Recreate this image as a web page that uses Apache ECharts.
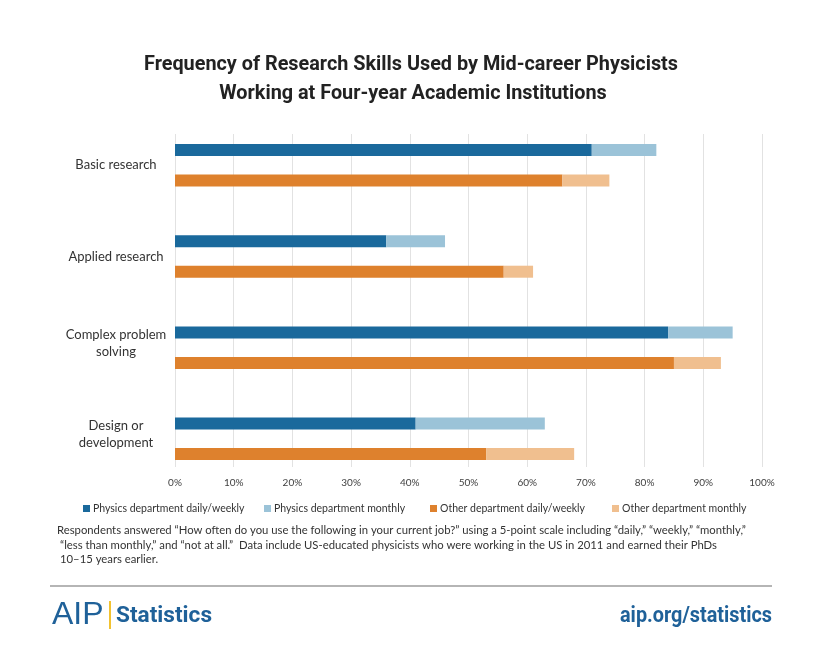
<!DOCTYPE html>
<html>
<head>
<meta charset="utf-8">
<script src="https://cdn.jsdelivr.net/npm/echarts@6/dist/echarts.min.js"></script>
<style>
html,body{margin:0;padding:0;background:#fff;}
#chart{width:820px;height:666px;}
</style>
</head>
<body>
<div id="chart"></div>
<script>
var categories = ['Basic research', 'Applied research', 'Complex problem\nsolving', 'Design or\ndevelopment'];
var physicsDailyWeekly = [71, 36, 84, 41];
var physicsMonthly = [11, 10, 11, 22];
var otherDailyWeekly = [66, 56, 85, 53];
var otherMonthly = [8, 5, 8, 15];
var seriesNames = ['Physics department daily/weekly', 'Physics department monthly', 'Other department daily/weekly', 'Other department monthly'];
var tickValues = [0, 10, 20, 30, 40, 50, 60, 70, 80, 90, 100];
var titleLines = ['Frequency of Research Skills Used by Mid-career Physicists', 'Working at Four-year Academic Institutions'];
var noteLines = [
  'Respondents answered \u201cHow often do you use the following in your current job?\u201d using a 5-point scale including \u201cdaily,\u201d \u201cweekly,\u201d \u201cmonthly,\u201d',
  '\u201cless than monthly,\u201d and \u201cnot at all.\u201d  Data include US-educated physicists who were working in the US in 2011 and earned their PhDs',
  '10\u201315 years earlier.'
];

var colors = ['#1a699c', '#9bc3d8', '#de812d', '#f0bf8f'];
var labelFont = 'Lato, "Open Sans", sans-serif';
var titleFont = 'bold 21px Roboto, "Liberation Sans", sans-serif';
var footFont = 'bold 22px Roboto, "Liberation Sans", sans-serif';
var noteFont = '11.3px ' + labelFont;

var measureCtx = document.createElement('canvas').getContext('2d');
function textWidth(text, font) { measureCtx.font = font; return measureCtx.measureText(text).width; }
var titleScale = 534 / textWidth(titleLines[0], titleFont);
var statScale = 96 / textWidth('Statistics', footFont);
var urlScale = 152 / textWidth('aip.org/statistics', footFont);

var chart = echarts.init(document.getElementById('chart'), null, {renderer: 'canvas'});

function bar(name, data, stack, color) {
  return {
    name: name, type: 'bar', stack: stack, data: data,
    barWidth: 12, barGap: '154%',
    xAxisIndex: 0, yAxisIndex: 0,
    itemStyle: {color: color},
    emphasis: {disabled: true}
  };
}

function legendAt(left, idx) {
  return {
    left: left, top: 503, padding: 0,
    itemWidth: 7, itemHeight: 7, itemGap: 5,
    icon: 'rect', selectedMode: false,
    data: [seriesNames[idx]],
    textStyle: {fontFamily: labelFont, fontSize: 10.5, color: '#333', padding: [0, 0, 0, -2]}
  };
}

function categoryLabel(v) {
  var lines = v.split('\n').map(function (l) { return '{a|' + l + '}'; });
  if (lines.length > 1) { lines.push('{s| }'); }
  return lines.join('\n');
}

var option = {
  animation: false,
  backgroundColor: '#fff',
  legend: [legendAt(83, 0), legendAt(264, 1), legendAt(430, 2), legendAt(612, 3)],
  grid: [
    {left: 175, right: 58, top: 119.7, bottom: 181.6},
    {left: 175, right: 58, top: 134, bottom: 199}
  ],
  xAxis: [
    {type: 'value', gridIndex: 0, min: 0, max: 100, interval: 10, show: false},
    {type: 'value', gridIndex: 1, min: 0, max: 100, interval: 10,
     axisLine: {show: false}, axisTick: {show: false},
     splitLine: {show: true, lineStyle: {color: '#e2e2e2', width: 1}},
     axisLabel: {margin: 11, fontFamily: labelFont, fontSize: 10, color: '#404040',
       formatter: function (v) { return tickValues.indexOf(v) >= 0 ? v + '%' : ''; }}}
  ],
  yAxis: [
    {type: 'category', gridIndex: 0, data: categories, inverse: true,
     axisLine: {show: false}, axisTick: {show: false},
     axisLabel: {margin: 59, align: 'center', formatter: categoryLabel,
       rich: {
         a: {fontFamily: labelFont, fontSize: 13, lineHeight: 17, color: '#333', align: 'center'},
         s: {fontSize: 1, lineHeight: 9}
       }}},
    {type: 'category', gridIndex: 1, data: categories, show: false}
  ],
  series: [
    bar(seriesNames[0], physicsDailyWeekly, 'physics', colors[0]),
    bar(seriesNames[1], physicsMonthly, 'physics', colors[1]),
    bar(seriesNames[2], otherDailyWeekly, 'other', colors[2]),
    bar(seriesNames[3], otherMonthly, 'other', colors[3])
  ],
  graphic: [
    {type: 'text', x: 411, y: 65, scaleX: titleScale,
     style: {text: titleLines[0], font: titleFont, fill: '#222', align: 'center', verticalAlign: 'middle'}},
    {type: 'text', x: 413, y: 93.5, scaleX: titleScale,
     style: {text: titleLines[1], font: titleFont, fill: '#222', align: 'center', verticalAlign: 'middle'}},
    {type: 'text', x: 57, y: 525, style: {text: noteLines[0], font: noteFont, fill: '#333'}},
    {type: 'text', x: 60, y: 540, style: {text: noteLines[1], font: noteFont, fill: '#333'}},
    {type: 'text', x: 60, y: 554, style: {text: noteLines[2], font: noteFont, fill: '#333'}},
    {type: 'rect', shape: {x: 50, y: 585, width: 722, height: 2}, style: {fill: '#b5b5b5'}},
    {type: 'text', x: 52, y: 599, style: {text: 'AIP', font: '32px "Liberation Sans", sans-serif', fill: '#1f6199'}},
    {type: 'rect', shape: {x: 109, y: 601, width: 2, height: 28}, style: {fill: '#f2c230'}},
    {type: 'text', x: 116, y: 616, scaleX: statScale,
     style: {text: 'Statistics', font: footFont, fill: '#1f6199', align: 'left', verticalAlign: 'middle'}},
    {type: 'text', x: 772, y: 616, scaleX: urlScale,
     style: {text: 'aip.org/statistics', font: footFont, fill: '#1f6199', align: 'right', verticalAlign: 'middle'}}
  ]
};
chart.setOption(option);
</script>
</body>
</html>
